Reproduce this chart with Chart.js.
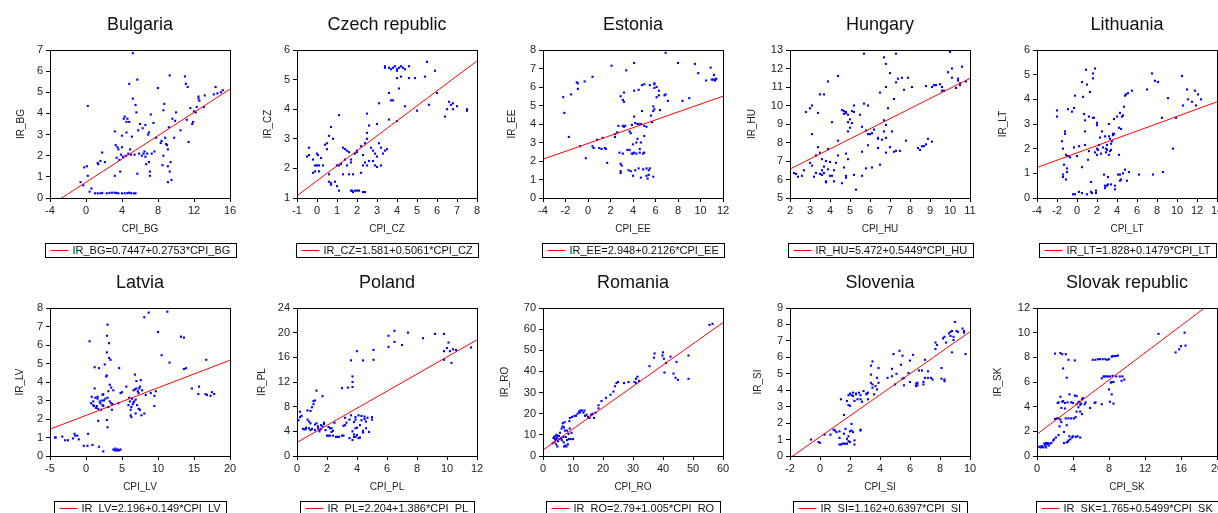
<!DOCTYPE html>
<html>
<head>
<meta charset="utf-8">
<script src="https://cdn.jsdelivr.net/npm/chart.js@4.4.1/dist/chart.umd.min.js"></script>
<style>
  html, body { margin: 0; padding: 0; background: #fff; }
  body { position: relative; width: 1218px; height: 513px; overflow: hidden; }
  canvas { position: absolute; }
</style>
</head>
<body>
<script>
// Inflation (CPI) vs interest rate (IR), one scatter per country
const countries = ['Bulgaria', 'Czech republic', 'Estonia', 'Hungary', 'Lithuania',
                   'Latvia', 'Poland', 'Romania', 'Slovenia', 'Slovak republic'];
const codes = ['BG', 'CZ', 'EE', 'HU', 'LT', 'LV', 'PL', 'RO', 'SI', 'SK'];

// OLS fit IR = a + b*CPI
const intercepts = [0.7447, 1.581, 2.948, 5.472, 1.828, 2.196, 2.204, 2.79, 1.162, 1.765];
const slopes = [0.2753, 0.5061, 0.2126, 0.5449, 0.1479, 0.149, 1.386, 1.005, 0.6397, 0.5499];

// [min, max, step]
const xTicks = [[-4, 16, 4], [-1, 8, 1], [-4, 12, 2], [2, 11, 1], [-4, 14, 2],
                [-5, 20, 5], [0, 12, 2], [0, 60, 10], [-2, 10, 2], [0, 20, 4]];
const yTicks = [[0, 7, 1], [1, 6, 1], [0, 8, 1], [5, 13, 1], [0, 6, 1],
                [0, 8, 1], [0, 24, 4], [0, 70, 10], [0, 9, 1], [0, 12, 2]];

// observations [CPI, IR]
const bgPoints = [[-0.6,0.75],[-0.3,0.6],[0.2,1.05],[-0.2,1.45],[0.1,1.5],[0.2,4.35],[0.4,0.3],[0.6,0.45],
  [1.0,0.22],[1.3,0.22],[1.6,0.22],[1.8,0.24],[2.3,0.22],[2.6,0.24],[2.9,0.25],[3.2,0.25],[3.4,0.24],[3.6,0.22],
  [4.0,0.22],[4.3,0.22],[4.6,0.23],[4.8,0.25],[5.0,0.22],[5.3,0.22],[5.5,0.22],
  [1.3,1.65],[1.35,1.6],[1.6,1.75],[1.8,2.15],[2.1,1.7],[3.2,3.15],[3.2,1.05],[3.3,2.5],[3.4,1.9],[3.5,2.4],
  [3.6,2.3],[3.7,1.8],[3.8,1.25],[3.9,2.05],[4.0,2.4],[4.0,2.95],[4.1,1.95],[4.2,3.75],[4.3,3.85],[4.4,2.0],
  [4.5,3.1],[4.5,3.6],[4.6,3.75],[4.7,2.1],[4.8,5.4],[4.8,3.6],[4.9,2.3],[5.0,2.05],[5.1,2.9],[5.2,6.85],
  [5.2,4.7],[5.4,2.05],[5.5,4.4],[5.6,4.05],[5.7,5.6],[5.7,1.15],[5.8,3.2],[5.9,2.1],[6.0,3.5],[6.2,2.0],
  [6.3,3.3],[6.4,2.1],[6.5,2.2],[6.6,1.95],[6.6,3.45],[6.7,1.6],[6.8,2.1],[6.9,3.0],[7.0,3.1],[7.0,1.7],
  [7.1,1.25],[7.1,1.05],[7.2,3.95],[7.3,2.1],[7.5,3.55],[7.6,2.2],[7.8,2.85],[8.0,5.2],[8.3,2.6],[8.4,2.7],
  [8.5,1.55],[8.6,4.15],[8.6,2.0],[8.7,4.45],[8.8,2.85],[8.9,2.55],[9.0,2.5],[9.1,2.3],[9.1,0.75],[9.1,1.5],
  [9.2,3.35],[9.3,1.25],[9.4,1.7],[9.3,5.8],[9.5,0.85],[9.6,3.75],[9.8,2.85],[9.9,3.65],[10.0,4.05],[10.5,3.2],
  [11.0,5.75],[11.1,5.4],[11.2,3.7],[11.3,5.25],[11.4,2.65],[11.6,4.25],[11.8,3.5],[11.9,3.6],[12.0,4.1],
  [12.2,4.05],[12.3,4.3],[12.5,4.7],[12.5,4.8],[12.6,4.6],[13.1,4.3],[13.2,4.85],[14.2,4.9],[14.4,5.25],
  [14.6,4.95],[15.0,5.0],[15.2,5.1]];

const czPoints = [[-0.5,2.4],[-0.4,2.45],[-0.4,2.7],[-0.2,2.3],[-0.1,2.1],[0.0,2.5],[0.0,2.1],[0.05,2.45],
  [-0.1,1.9],[-0.2,1.85],[0.1,1.9],[0.1,2.1],[0.2,2.35],[0.3,2.1],[0.4,2.8],[0.5,2.65],[0.5,2.85],[0.6,3.1],
  [0.6,1.8],[0.6,1.55],[0.7,1.5],[0.7,1.45],[0.7,3.4],[0.8,3.0],[0.9,1.55],[1.0,2.1],[1.0,1.4],[1.1,1.25],
  [1.1,2.1],[1.1,3.8],[1.2,2.15],[1.3,2.7],[1.3,1.8],[1.4,2.65],[1.4,2.3],[1.5,2.6],[1.5,2.1],[1.6,2.55],
  [1.6,1.8],[1.7,2.3],[1.7,2.2],[1.7,1.25],[1.75,1.25],[1.8,1.2],[1.8,1.8],[1.9,1.25],[2.0,1.25],[1.9,2.5],
  [2.0,2.55],[2.0,2.6],[2.1,1.25],[2.2,1.85],[2.2,2.75],[2.3,2.1],[2.3,2.45],[2.3,1.2],[2.4,1.2],[2.4,2.2],
  [2.4,2.85],[2.5,3.85],[2.5,3.0],[2.5,3.2],[2.5,2.1],[2.6,3.45],[2.6,2.25],[2.7,2.7],[2.8,2.6],[2.8,2.25],
  [2.9,2.1],[2.9,2.5],[3.0,2.4],[3.0,3.5],[3.0,2.05],[3.1,2.85],[3.2,2.7],[3.2,2.1],[3.3,2.5],[3.4,2.6],
  [3.5,2.65],[3.1,4.2],[3.4,5.4],[3.4,5.45],[3.6,5.4],[3.7,5.35],[3.8,5.4],[3.9,5.45],[4.0,5.3],[4.0,5.35],
  [4.1,5.4],[4.2,5.45],[4.3,5.4],[4.4,5.35],[4.6,5.45],[3.6,4.55],[3.7,4.3],[3.8,4.3],[3.6,3.65],[4.0,3.6],
  [4.0,5.05],[4.1,4.7],[4.2,5.1],[4.4,4.1],[4.6,5.05],[4.9,5.05],[5.0,3.95],[5.4,5.1],[5.5,5.6],[5.6,4.15],
  [5.9,5.3],[6.0,4.55],[6.4,3.75],[6.5,4.0],[6.6,4.25],[6.7,4.15],[6.8,4.2],[6.8,4.0],[7.0,4.1],[7.5,4.0],
  [7.5,3.95]];

const eePoints = [[-2.2,5.45],[-2.1,4.6],[-1.7,3.3],[-1.5,5.6],[-1.0,6.25],[-0.9,6.2],[-0.9,5.9],[-0.7,2.8],
  [-0.3,6.3],[-0.2,2.15],[0.4,6.55],[0.4,2.8],[0.5,2.7],[0.8,3.15],[1.0,2.7],[1.2,2.65],[1.3,3.25],[1.5,2.7],
  [1.6,2.65],[1.7,1.9],[2.1,7.15],[2.4,3.3],[2.4,3.45],[2.6,3.55],[2.7,3.9],[2.8,2.45],[2.9,5.5],[2.9,1.85],
  [2.9,1.45],[2.9,1.35],[3.0,1.75],[3.1,3.9],[3.1,2.4],[3.1,5.3],[3.2,5.2],[3.2,5.7],[3.2,3.85],[3.3,3.9],
  [3.4,6.9],[3.5,2.6],[3.6,1.5],[3.7,2.6],[3.7,3.6],[3.8,3.5],[3.8,1.45],[3.9,2.4],[3.9,3.95],[4.0,2.4],
  [4.0,2.9],[4.0,1.2],[4.1,4.4],[4.1,2.45],[4.1,7.3],[4.1,5.8],[4.2,4.05],[4.2,1.5],[4.3,2.4],[4.3,3.0],
  [4.4,3.2],[4.4,4.0],[4.5,5.85],[4.5,1.6],[4.5,4.0],[4.6,2.45],[4.6,2.65],[4.7,3.0],[4.7,4.0],[4.7,1.1],
  [4.8,4.7],[4.8,6.1],[4.9,2.4],[4.9,1.55],[5.0,3.9],[5.0,2.45],[5.0,3.35],[5.0,6.15],[5.2,3.85],[5.2,1.6],
  [5.2,1.2],[5.3,1.05],[5.4,1.5],[5.4,1.25],[5.5,1.6],[5.5,6.1],[5.6,4.45],[5.7,4.1],[5.8,4.95],[5.8,4.7],
  [5.8,1.15],[5.9,6.15],[5.9,6.2],[5.9,5.95],[5.9,4.8],[6.1,6.0],[6.1,5.45],[6.3,5.55],[6.3,5.8],[6.4,4.75],
  [6.8,5.55],[6.9,5.6],[6.9,7.85],[7.1,5.25],[8.0,7.3],[8.4,5.25],[9.0,5.4],[9.5,7.25],[9.8,6.75],[10.5,6.35],
  [10.9,7.05],[11.0,6.4],[11.1,6.4],[11.2,6.65],[11.3,6.35],[11.4,6.45],[11.3,6.4]];

const huPoints = [[2.2,6.35],[2.3,6.3],[2.4,6.15],[2.6,6.2],[2.7,6.5],[2.8,9.65],[3.0,6.9],[3.0,9.85],
  [3.1,10.0],[3.1,6.75],[3.1,8.45],[3.2,6.15],[3.3,6.35],[3.3,7.3],[3.4,9.6],[3.4,7.75],[3.5,7.45],[3.5,6.3],
  [3.5,10.6],[3.6,6.25],[3.6,6.5],[3.6,7.1],[3.7,10.6],[3.7,6.35],[3.7,6.7],[3.8,5.9],[3.8,5.85],[3.8,7.0],
  [3.9,11.3],[3.9,7.65],[3.9,6.55],[4.0,6.2],[4.0,6.95],[4.1,6.2],[4.1,9.1],[4.2,6.5],[4.2,5.9],[4.3,6.9],
  [4.4,7.3],[4.4,8.1],[4.4,11.6],[4.6,5.8],[4.6,9.75],[4.7,9.7],[4.7,9.55],[4.7,6.65],[4.8,9.6],[4.8,9.65],
  [4.8,7.4],[4.8,6.2],[4.8,6.1],[4.9,9.5],[4.9,9.1],[4.9,8.6],[4.9,7.1],[5.0,9.25],[5.0,8.8],[5.1,9.7],
  [5.1,9.05],[5.2,6.25],[5.2,10.0],[5.2,9.65],[5.3,5.45],[5.5,9.5],[5.6,8.85],[5.6,6.2],[5.6,7.5],[5.7,10.1],
  [5.7,12.8],[5.8,6.6],[5.8,8.65],[5.9,10.0],[5.9,7.85],[5.9,8.45],[6.0,8.45],[6.1,8.5],[6.1,6.65],[6.2,8.7],
  [6.4,8.25],[6.4,8.2],[6.4,7.7],[6.5,10.7],[6.5,6.8],[6.6,8.15],[6.7,9.2],[6.7,12.6],[6.7,8.6],[6.8,8.25],
  [6.8,8.95],[6.8,7.45],[6.8,11.0],[6.8,12.25],[6.9,9.85],[7.0,7.75],[7.0,11.75],[7.1,8.6],[7.2,10.35],
  [7.2,7.5],[7.3,11.25],[7.3,12.8],[7.3,7.55],[7.4,11.45],[7.5,7.55],[7.6,11.5],[7.7,10.85],[7.8,8.1],
  [7.9,11.5],[8.1,11.0],[8.4,7.7],[8.5,7.6],[8.6,7.8],[8.7,7.8],[8.8,7.9],[8.8,11.05],[8.9,8.2],[9.1,8.05],
  [9.1,11.0],[9.2,11.1],[9.3,11.1],[9.5,11.15],[9.6,11.0],[9.6,10.8],[9.7,10.8],[9.9,11.8],[10.0,12.9],
  [10.1,12.0],[10.1,11.5],[10.3,10.95],[10.4,11.35],[10.4,11.45],[10.5,11.2],[10.5,11.1],[10.6,12.1],[10.8,11.3]];

const ltPoints = [[-2.0,3.55],[-2.0,3.3],[-1.5,2.3],[-1.4,2.0],[-1.4,0.95],[-1.4,0.85],[-1.3,1.35],[-1.2,2.7],
  [-1.2,2.6],[-1.1,1.75],[-1.0,1.7],[-1.0,1.2],[-1.0,1.05],[-1.1,0.75],[-0.9,1.7],[-0.9,3.6],[-0.7,1.65],
  [-0.5,3.5],[-0.3,3.65],[-0.3,2.05],[-0.2,4.15],[0.0,1.7],[0.2,2.1],[0.2,0.25],[-0.4,0.15],[-0.2,0.15],
  [0.5,1.25],[0.5,0.2],[0.5,4.7],[0.6,4.1],[0.7,3.4],[0.8,3.15],[0.8,2.7],[0.8,2.15],[0.9,5.2],[1.0,4.6],
  [1.0,0.15],[1.1,1.55],[1.2,1.9],[1.2,3.3],[1.3,4.3],[1.4,0.65],[1.4,0.25],[1.5,0.2],[1.6,5.05],[1.6,4.85],
  [1.6,3.25],[1.7,3.25],[1.8,5.25],[1.8,1.85],[1.9,0.2],[1.9,0.3],[2.0,1.75],[2.0,2.0],[2.0,2.95],[2.0,3.05],
  [2.1,1.95],[2.2,2.15],[2.3,2.45],[2.4,1.8],[2.5,2.7],[2.6,2.05],[2.7,0.95],[2.8,2.5],[2.8,0.4],[2.8,0.5],
  [2.9,2.0],[2.9,1.85],[3.0,2.15],[3.0,1.95],[3.0,0.5],[3.1,0.85],[3.1,0.55],[3.2,3.0],[3.2,2.5],[3.2,1.75],
  [3.3,1.9],[3.3,2.4],[3.4,2.2],[3.4,1.95],[3.4,0.55],[3.5,2.3],[3.6,2.55],[3.6,2.6],[3.7,3.2],[3.7,2.6],
  [3.8,0.5],[3.8,0.35],[4.0,3.3],[4.1,0.95],[4.2,2.85],[4.2,1.75],[4.3,3.45],[4.3,0.95],[4.3,0.7],[4.4,2.8],
  [4.4,0.75],[4.5,3.3],[4.6,3.35],[4.6,1.0],[4.7,3.7],[4.8,1.15],[4.8,4.15],[4.9,4.2],[5.0,0.7],[5.1,4.25],
  [5.2,1.05],[5.5,4.35],[6.2,0.95],[7.0,4.4],[7.5,5.05],[7.6,0.95],[7.8,4.75],[8.1,4.7],[8.6,1.05],[8.5,3.25],
  [9.1,4.05],[9.6,2.0],[9.9,3.25],[10.5,4.95],[10.6,3.75],[11.0,4.4],[11.1,4.0],[11.5,3.9],[11.8,4.35],
  [11.9,3.75],[12.1,4.2],[12.4,4.0]];

const lvPoints = [[-4.3,1.0],[-4.2,1.0],[-3.3,1.05],[-2.9,0.85],[-2.5,0.85],[-1.8,0.95],[-1.6,1.2],[-1.5,1.1],
  [-1.2,1.1],[-1.0,0.9],[-0.3,0.55],[0.2,0.55],[0.3,1.2],[0.5,6.2],[0.7,2.85],[0.8,3.2],[0.9,0.6],[1.0,2.95],
  [1.0,2.75],[1.1,2.7],[1.2,3.65],[1.2,4.8],[1.3,3.15],[1.4,2.6],[1.5,2.7],[1.6,3.1],[1.6,3.2],[1.7,1.9],
  [1.7,2.55],[1.8,4.75],[1.8,0.5],[1.9,2.95],[2.0,2.85],[2.1,2.5],[2.2,3.0],[2.3,2.75],[2.3,3.3],[2.4,3.35],
  [2.4,2.7],[2.4,0.25],[2.5,3.0],[2.6,4.95],[2.7,3.1],[2.8,4.3],[2.9,4.35],[2.9,5.6],[2.9,6.5],[2.9,1.95],
  [3.0,3.15],[3.0,1.55],[3.0,7.1],[3.1,2.65],[3.1,3.5],[3.2,6.1],[3.2,5.3],[3.3,3.85],[3.3,2.95],[3.4,5.2],
  [3.5,3.7],[3.5,2.85],[3.6,2.5],[3.7,2.8],[3.8,0.35],[3.8,3.55],[4.0,0.3],[4.1,0.4],[4.3,0.3],[4.4,0.35],
  [4.6,0.3],[4.8,0.35],[4.5,2.85],[4.6,4.75],[4.8,3.4],[5.0,3.45],[5.6,3.75],[5.9,2.75],[6.0,3.15],[6.1,2.95],
  [6.2,2.2],[6.2,2.5],[6.3,2.1],[6.3,2.65],[6.4,3.1],[6.5,2.8],[6.6,2.9],[6.6,3.55],[6.7,2.95],[6.8,4.4],
  [6.8,3.6],[6.9,3.05],[6.9,2.3],[7.0,4.05],[7.0,3.65],[7.1,2.75],[7.2,3.5],[7.3,2.55],[7.3,3.4],[7.4,3.65],
  [7.5,3.75],[7.6,4.1],[7.5,2.5],[7.7,2.2],[7.8,3.55],[8.1,2.3],[8.1,7.5],[8.3,3.3],[8.7,7.75],[9.0,3.4],
  [9.5,3.25],[9.5,2.7],[9.7,3.5],[10.0,6.7],[10.5,5.45],[11.3,7.8],[11.6,5.05],[13.2,6.45],[13.6,6.4],
  [13.6,4.7],[13.9,4.75],[14.7,3.65],[15.6,3.35],[15.7,3.75],[16.7,5.2],[16.6,3.35],[16.8,3.3],[17.3,3.25],
  [17.5,3.45],[17.8,3.35]];

const plPoints = [[0.0,5.7],[0.1,5.8],[0.2,6.3],[0.2,7.2],[0.3,6.5],[0.4,4.4],[0.5,4.3],[0.6,4.6],[0.6,4.4],
  [0.7,7.4],[0.7,5.9],[0.8,5.6],[0.8,4.5],[0.9,4.2],[0.9,7.3],[0.9,5.3],[1.0,4.4],[1.0,7.9],[1.1,8.4],[1.1,8.9],
  [1.2,9.0],[1.2,5.1],[1.2,4.2],[1.3,10.6],[1.3,5.3],[1.4,4.5],[1.4,4.8],[1.5,4.0],[1.5,4.3],[1.6,5.0],
  [1.6,4.4],[1.7,9.7],[1.7,4.8],[1.8,5.2],[1.8,5.4],[1.9,4.2],[2.0,3.3],[2.1,3.3],[2.1,4.7],[2.2,3.3],[2.2,4.5],
  [2.3,3.9],[2.3,4.5],[2.4,3.3],[2.4,4.1],[2.5,5.4],[2.6,3.1],[2.7,3.1],[2.8,3.1],[3.0,3.3],[3.0,11.0],[3.1,3.3],
  [3.1,4.9],[3.2,5.0],[3.2,6.2],[3.3,5.4],[3.4,11.1],[3.5,5.9],[3.5,2.9],[3.6,15.5],[3.6,6.6],[3.7,11.2],
  [3.7,12.0],[3.7,12.9],[3.7,4.0],[3.7,2.6],[3.8,3.1],[3.8,5.5],[3.8,3.5],[3.9,3.1],[3.9,4.5],[3.9,5.9],
  [3.9,6.3],[4.0,17.0],[4.0,3.4],[4.0,4.6],[4.1,6.6],[4.1,2.9],[4.2,3.0],[4.2,5.0],[4.3,6.5],[4.3,5.8],
  [4.4,15.5],[4.4,4.1],[4.4,3.8],[4.5,6.4],[4.5,6.0],[4.6,4.5],[4.6,5.6],[4.7,6.2],[4.8,3.9],[5.0,6.3],
  [5.0,5.9],[5.1,17.2],[5.1,15.6],[6.1,17.7],[6.1,19.5],[6.5,18.5],[6.5,20.3],[7.0,18.0],[7.4,20.0],[8.4,19.1],
  [9.2,19.8],[9.8,19.8],[9.8,15.6],[9.8,17.0],[10.0,17.5],[10.1,18.4],[10.2,17.0],[10.3,15.1],[10.4,17.3],
  [10.6,17.2],[11.6,17.6]];

const roPoints = [[3.2,6.0],[3.5,8.5],[3.7,9.0],[3.8,6.5],[4.0,8.0],[4.2,9.5],[4.3,7.5],[4.4,5.5],[4.5,10.0],
  [4.6,8.5],[4.8,4.5],[5.0,9.5],[5.0,7.0],[5.3,9.5],[5.5,8.0],[5.7,11.0],[6.0,8.5],[6.2,13.0],[6.3,7.5],
  [6.5,14.0],[6.6,15.5],[6.8,9.0],[6.9,6.5],[7.0,13.5],[7.0,4.5],[7.2,16.0],[7.3,12.0],[7.5,5.0],[7.6,9.0],
  [7.8,4.5],[8.0,12.0],[8.0,7.5],[8.3,5.5],[8.5,10.5],[8.6,8.0],[8.8,16.5],[8.9,13.0],[9.0,18.0],[9.2,8.0],
  [9.5,11.0],[9.7,18.5],[10.0,8.0],[10.5,19.0],[11.0,19.0],[11.5,20.0],[12.0,21.0],[12.3,20.5],[12.5,21.5],
  [13.0,21.5],[13.5,20.5],[13.8,21.5],[14.0,19.0],[14.5,19.5],[15.0,18.5],[15.5,18.0],[16.0,19.5],[16.5,20.0],
  [17.0,18.0],[17.5,20.5],[18.5,22.5],[18.5,24.0],[19.5,26.0],[21.0,27.5],[22.5,29.0],[23.5,30.5],[24.0,33.0],
  [24.5,34.5],[25.0,35.0],[27.0,34.5],[28.5,35.0],[30.5,35.0],[31.0,34.5],[31.0,36.5],[31.5,37.5],[32.0,35.5],
  [35.5,42.5],[37.0,46.5],[37.2,48.5],[39.8,47.5],[40.0,49.0],[40.3,46.0],[40.5,39.5],[41.0,44.0],[42.5,47.0],
  [43.5,39.0],[44.2,37.0],[44.5,44.5],[45.0,36.0],[48.5,47.5],[48.5,36.5],[55.5,62.0],[56.5,62.5]];

const siPoints = [[-0.6,1.0],[-0.1,0.85],[0.0,0.8],[0.3,1.3],[0.7,1.3],[0.9,1.6],[1.0,1.55],[1.1,1.45],
  [1.3,1.5],[1.3,0.7],[1.3,1.1],[1.4,0.7],[1.4,3.45],[1.5,0.75],[1.6,1.35],[1.6,2.5],[1.6,0.75],[1.7,1.65],
  [1.7,0.75],[1.8,1.05],[1.8,3.35],[1.8,0.75],[1.9,0.9],[1.9,3.7],[1.9,3.1],[1.9,1.2],[2.0,3.05],[2.0,0.85],
  [2.0,3.8],[2.0,1.5],[2.1,3.7],[2.1,1.55],[2.1,1.95],[2.2,3.65],[2.2,3.85],[2.2,1.45],[2.3,3.35],[2.3,0.95],
  [2.3,0.7],[2.4,3.8],[2.4,3.75],[2.5,3.45],[2.6,3.85],[2.7,3.7],[2.7,3.45],[2.7,1.55],[2.7,1.6],[2.8,3.3],
  [2.9,3.95],[3.1,3.8],[3.1,3.75],[3.2,3.45],[3.2,3.85],[3.4,5.5],[3.4,4.95],[3.4,4.45],[3.5,4.35],[3.5,4.15],
  [3.5,5.75],[3.6,3.75],[3.7,4.25],[3.8,4.05],[3.8,4.75],[3.9,4.45],[3.9,5.35],[4.5,4.75],[4.8,5.3],[4.8,4.85],
  [4.9,6.2],[5.0,4.35],[5.1,5.0],[5.3,6.4],[5.4,5.55],[5.5,6.1],[5.5,4.7],[5.6,4.3],[5.6,4.75],[5.9,5.05],
  [6.0,4.5],[6.0,5.8],[6.2,6.15],[6.4,4.4],[6.4,4.25],[6.5,4.3],[6.5,4.45],[6.6,5.2],[6.8,5.2],[6.9,4.35],
  [6.9,4.5],[7.0,5.85],[7.0,4.75],[7.2,5.15],[7.2,4.75],[7.4,4.75],[7.5,4.65],[7.7,6.9],[7.7,6.5],[7.8,6.75],
  [8.1,4.7],[8.1,5.35],[8.2,7.15],[8.3,7.25],[8.3,4.55],[8.3,4.65],[8.4,6.9],[8.6,7.45],[8.7,7.55],[8.7,7.3],
  [8.8,7.6],[8.8,6.3],[8.9,7.25],[8.9,7.05],[9.0,8.15],[9.1,7.6],[9.2,7.55],[9.5,7.75],[9.6,7.6],[9.6,7.5],
  [9.7,6.2]];

const skPoints = [[0.2,0.75],[0.4,0.7],[0.5,0.8],[0.6,0.75],[0.7,0.7],[0.8,1.0],[0.9,0.85],[1.0,1.05],
  [1.0,0.7],[1.1,0.95],[1.2,1.05],[1.3,0.85],[1.4,1.0],[1.6,1.05],[1.8,1.25],[1.9,1.35],[2.0,3.0],[2.0,8.3],
  [2.1,1.5],[2.2,3.05],[2.3,4.3],[2.4,4.35],[2.4,3.05],[2.4,1.7],[2.5,2.4],[2.6,2.95],[2.6,8.35],[2.6,4.8],
  [2.7,2.75],[2.7,3.9],[2.8,4.4],[2.8,8.25],[2.9,7.1],[2.9,4.45],[3.0,1.05],[3.0,1.95],[3.1,4.3],[3.1,3.85],
  [3.2,3.05],[3.2,8.25],[3.3,6.35],[3.3,2.5],[3.3,1.1],[3.4,4.35],[3.4,1.15],[3.5,7.8],[3.5,3.05],[3.5,1.25],
  [3.6,1.6],[3.6,5.0],[3.7,1.35],[3.8,4.35],[3.8,3.05],[3.9,1.5],[4.0,1.6],[4.0,4.3],[4.1,3.05],[4.2,7.75],
  [4.2,4.9],[4.3,1.55],[4.3,3.15],[4.4,3.6],[4.4,4.85],[4.4,4.2],[4.5,1.6],[4.6,3.95],[4.6,4.35],[4.7,4.4],
  [4.8,3.6],[4.8,4.15],[4.8,1.5],[4.9,4.25],[5.0,3.4],[5.0,4.6],[5.1,4.7],[5.3,4.2],[5.4,4.35],[5.9,3.9],
  [6.2,7.8],[6.4,4.3],[6.5,4.35],[6.5,7.8],[6.8,7.85],[7.0,7.85],[7.2,4.2],[7.2,6.3],[7.3,7.85],[7.4,6.45],
  [7.5,6.45],[7.6,7.85],[7.7,6.45],[7.8,7.8],[7.9,6.45],[8.0,5.4],[8.0,7.85],[8.1,4.4],[8.1,6.45],[8.2,5.95],
  [8.3,5.0],[8.3,6.0],[8.3,8.05],[8.4,8.1],[8.4,6.5],[8.5,4.25],[8.5,6.0],[8.6,8.1],[8.8,8.1],[8.8,6.45],
  [9.0,8.15],[9.2,6.45],[9.4,6.1],[9.5,6.45],[9.7,6.2],[13.5,9.9],[15.4,8.4],[15.8,8.65],[16.0,8.9],[16.4,10.0],
  [16.5,8.95]];

const pointSets = [bgPoints, czPoints, eePoints, huPoints, ltPoints, lvPoints, plPoints, roPoints, siPoints, skPoints];

// panel placement: left edge of each plot area, and y-title distance from it
const plotLefts = [50, 297, 543, 790, 1037];
const rowTops = [0, 258];
const yTitleGap = [29, 29, 31, 38, 34, 30, 35, 38, 32, 39];

const FONT = "'Liberation Sans', Arial, Helvetica, sans-serif";
Chart.defaults.font.family = FONT;
Chart.defaults.font.size = 11;
Chart.defaults.color = '#1a1a1a';

// frame box, country title and the fit legend under each panel
const panelDecor = {
  id: 'panelDecor',
  afterDraw(chart, args, opts) {
    const { ctx, chartArea: a } = chart;
    ctx.save();
    ctx.strokeStyle = '#000';
    ctx.lineWidth = 1;
    ctx.strokeRect(Math.round(a.left) + 0.5, Math.round(a.top) + 0.5,
                   Math.round(a.right - a.left), Math.round(a.bottom - a.top));

    const cx = (a.left + a.right) / 2;
    ctx.fillStyle = '#111';
    ctx.textAlign = 'center';
    ctx.textBaseline = 'middle';
    ctx.font = '18px ' + FONT;
    ctx.fillText(opts.title, cx, 25);

    ctx.font = '11px ' + FONT;
    const tw = ctx.measureText(opts.label).width;
    const w = Math.round(5 + 18 + 4 + tw + 6);
    const x0 = Math.round(cx - w / 2) + 0.5;
    const y0 = 243.5;
    ctx.strokeStyle = '#000';
    ctx.strokeRect(x0, y0, w, 14);
    ctx.strokeStyle = '#ff0000';
    ctx.beginPath();
    ctx.moveTo(x0 + 5, y0 + 7);
    ctx.lineTo(x0 + 23, y0 + 7);
    ctx.stroke();
    ctx.textAlign = 'left';
    ctx.fillText(opts.label, x0 + 27, y0 + 7.5);
    ctx.restore();
  }
};

function axisOpts(range, titleText, titlePad, isX) {
  return {
    type: 'linear',
    min: range[0],
    max: range[1],
    border: { display: false },
    grid: { drawOnChartArea: false, drawTicks: true, tickLength: 4, color: '#000' },
    ticks: { stepSize: range[2], autoSkip: false, maxRotation: 0, padding: isX ? 2 : 3, color: '#222' },
    title: { display: true, text: titleText, font: { size: 10 }, color: '#222', padding: titlePad },
    afterFit(scale) {
      if (isX) scale.height = 62; else scale.width = 60;
    }
  };
}

countries.forEach((name, i) => {
  const code = codes[i];
  const a = intercepts[i], b = slopes[i];
  const xr = xTicks[i], yr = yTicks[i];

  const canvas = document.createElement('canvas');
  canvas.width = 250;
  canvas.height = 260;
  canvas.style.left = (plotLefts[i % 5] - 60) + 'px';
  canvas.style.top = rowTops[Math.floor(i / 5)] + 'px';
  document.body.appendChild(canvas);

  const fitLine = [xr[0], xr[1]].map(x => ({ x: x, y: a + b * x }));
  const label = 'IR_' + code + '=' + String(a) + '+' + String(b) + '*CPI_' + code;

  new Chart(canvas.getContext('2d'), {
    type: 'scatter',
    data: {
      datasets: [
        {
          data: fitLine,
          showLine: true,
          borderColor: '#ff0000',
          borderWidth: 1,
          pointRadius: 0
        },
        {
          data: pointSets[i].map(p => ({ x: p[0], y: p[1] })),
          pointStyle: 'rect',
          pointRadius: 1.5,
          borderWidth: 0,
          backgroundColor: '#0000ff'
        }
      ]
    },
    options: {
      responsive: false,
      animation: false,
      layout: { padding: { top: 50, right: 10, bottom: 0, left: 0 } },
      plugins: {
        legend: { display: false },
        tooltip: { enabled: false },
        panelDecor: { title: name, label: label }
      },
      scales: {
        x: axisOpts(xr, 'CPI_' + code, { top: 0, bottom: 25 }, true),
        y: axisOpts(yr, 'IR_' + code, { top: 60 - yTitleGap[i] - 6, bottom: 0 }, false)
      }
    },
    plugins: [panelDecor]
  });
});
</script>
</body>
</html>
